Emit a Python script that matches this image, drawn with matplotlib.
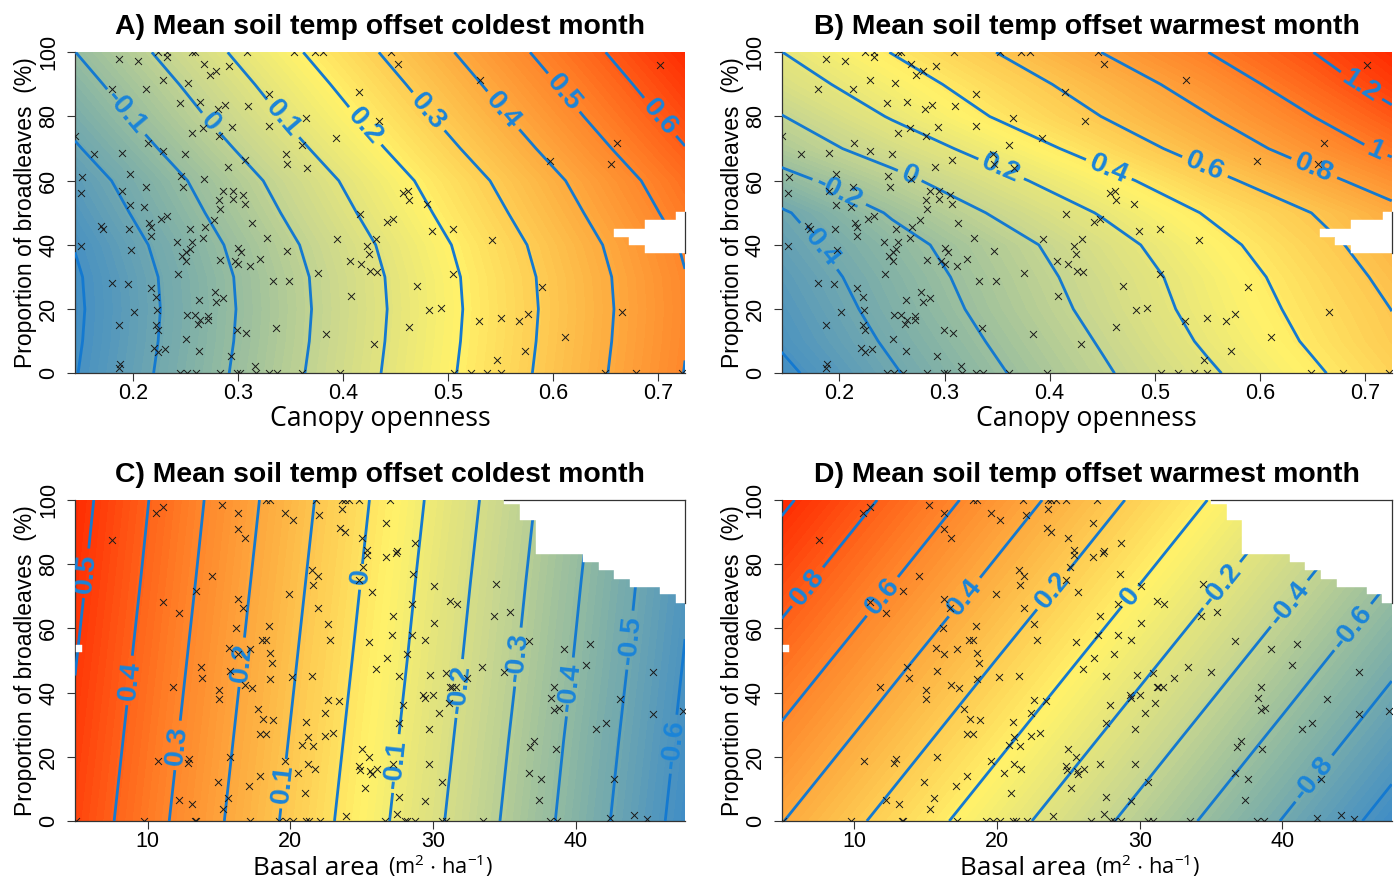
import numpy as np
import matplotlib
matplotlib.use("Agg")
import matplotlib.pyplot as plt
from matplotlib.colors import LinearSegmentedColormap
from matplotlib.patches import Rectangle

plt.rcParams['font.family'] = ['Liberation Sans', 'DejaVu Sans']
plt.rcParams['mathtext.default'] = 'regular'
plt.rcParams['contour.negative_linestyle'] = 'solid'

# ---- field tables ----
open_nodes = [0.145, 0.25, 0.35, 0.45, 0.55, 0.65, 0.7255]
share_rows = [0, 10, 20, 30, 40, 50, 60, 70, 80, 90, 100]
field_a = [
    [-.304, -.158, -.019, .119, .258, .397, .502],
    [-.310, -.164, -.025, .114, .253, .392, .497],
    [-.313, -.167, -.028, .111, .250, .389, .494],
    [-.310, -.164, -.025, .114, .253, .392, .497],
    [-.297, -.151, -.012, .126, .265, .404, .509],
    [-.272, -.126, .013, .151, .290, .429, .534],
    [-.248, -.103, .036, .175, .314, .453, .558],
    [-.209, -.064, .075, .214, .353, .492, .597],
    [-.172, -.026, .113, .251, .390, .529, .634],
    [-.137, .008, .147, .286, .425, .564, .669],
    [-.101, .044, .183, .322, .461, .600, .705],
]
field_b = [
    [-.637, -.417, -.219, -.023, .173, .373, .524],
    [-.581, -.374, -.178, .015, .226, .424, .573],
    [-.549, -.336, -.140, .053, .263, .456, .602],
    [-.514, -.308, -.114, .080, .285, .490, .644],
    [-.469, -.268, -.081, .123, .333, .537, .692],
    [-.421, -.182, .022, .214, .414, .602, .748],
    [-.265, -.056, .143, .334, .542, .741, .887],
    [-.107, .087, .278, .482, .684, .883, 1.04],
    [-.006, .214, .414, .602, .790, .998, 1.16],
    [.112, .307, .500, .690, .887, 1.105, 1.27],
    [.198, .405, .602, .802, .998, 1.198, 1.35],
]
basal_nodes = [4.9, 10, 20, 30, 40, 47.66]
share_rows_cd = [0, 25, 50, 75, 100]
field_c = [
    [.471, .339, .080, -.179, -.437, -.636],
    [.487, .355, .096, -.163, -.422, -.620],
    [.503, .371, .112, -.147, -.405, -.604],
    [.519, .387, .128, -.132, -.390, -.589],
    [.534, .402, .144, -.116, -.374, -.572],
]
field_d = [
    [.406, .230, -.116, -.460, -.806, -1.071],
    [.562, .386, .040, -.305, -.650, -.916],
    [.718, .542, .196, -.149, -.494, -.760],
    [.875, .699, .354, .008, -.338, -.604],
    [1.031, .855, .509, .164, -.182, -.448],
]

levels_a = [-.3, -.2, -.1, 0, .1, .2, .3, .4, .5, .6]
levels_b = [-.6, -.4, -.2, 0, .2, .4, .6, .8, 1, 1.2]
levels_c = [-.6, -.5, -.4, -.3, -.2, -.1, 0, .1, .2, .3, .4, .5]
levels_d = [-1, -.8, -.6, -.4, -.2, 0, .2, .4, .6, .8, 1]

# contour label anchor points
labels_a = [(.194, 81.5), (.275, 78.4), (.343, 79.4), (.422, 77.3), (.483, 82), (.553, 82), (.611, 87.7), (.704, 80.5)]
labels_b = [(.175, 38.4), (.199, 56), (.267, 61.7), (.354, 63.8), (.456, 63.3), (.547, 63.8), (.653, 64.9), (.711, 70), (.70, 91.4)]
labels_c = [(6.06, 77), (8.7, 43.8), (12.2, 23.5), (16.5, 49.5), (19.5, 11.6), (25.1, 76), (27.6, 17.8), (32, 41.2), (36.1, 51), (39.7, 41.7), (43.9, 56.3), (46.7, 24)]
labels_d = [(6.56, 73.5), (12, 69.8), (17.7, 69.8), (23.9, 71.9), (29.4, 69.8), (35.6, 74), (40.5, 67.7), (44.9, 60.5), (42.1, 13.6)]

# ---- plots (canopy openness, share of broadleaves) ----
canopy = [.224,.233,.256,.259,.309,.353,.373,.381,.446,.187,.205,.233,.268,.292,.279,.273,.229,.253,.452,.530,.702,.213,.180,.330,.415,.245,.264,.281,.288,.310,.365,.434,.330,.294,.267,.256,.282,.145,.393,.214,.229,.661,.361,.163,.190,.250,.346,.307,.347,.597,.655,.291,.366,.152,.197,.246,.268,.248,.213,.151,.190,.286,.295,.305,.295,.282,.457,.462,.463,.307,.480,.197,.211,.283,.416,.233,.227,.215,.313,.277,.448,.442,.170,.172,.269,.217,.254,.196,.505,.485,.217,.267,.242,.256,.328,.394,.431,.542,.151,.198,.300,.303,.347,.423,.425,.254,.251,.247,.251,.321,.283,.297,.407,.300,.417,.312,.243,.376,.426,.432,.505,.333,.349,.180,.195,.217,.470,.589,.278,.222,.286,.263,.279,.408,.223,.201,.666,.482,.493,.252,.259,.272,.264,.272,.576,.550,.529,.568,.187,.222,.463,.262,.224,.299,.308,.336,.384,.611,.251,.430,.220,.231,.224,.263,.573,.293,.547,.188,.187,.316,.245,.252,.260,.283,.299,.302,.317,.330,.337,.361,.397,.506,.522,.537,.550,.649,.679,.723]
broadleaf_ab = [100,100,100,100,100,100,100,100,100,98.0,97.3,98.6,96.4,95.6,94.1,93.0,91.4,90.3,96.4,91.3,95.9,88.7,88.5,86.9,87.5,84.2,84.5,82.4,83.7,83.4,79.4,78.6,77.0,76.7,76.4,74.9,74.0,73.9,73.4,71.6,69.4,71.6,71.0,68.3,68.6,68.3,68.3,66.5,65.2,66.2,65.1,64.2,64.0,61.1,62.1,61.5,60.5,58.1,58.0,56.2,56.8,56.8,56.7,55.5,54.4,54.1,56.2,56.8,54.1,52.8,52.8,52.3,51.9,51.1,49.5,49.0,48.2,46.9,46.9,47.9,48.1,47.1,45.8,45.1,45.6,45.6,45.1,45.1,44.8,44.4,42.7,42.0,41.0,41.0,42.2,41.8,41.9,41.5,39.6,38.4,38.9,37.8,38.1,39.6,37.3,38.6,37.8,36.5,34.9,35.6,35.4,34.9,35.0,33.9,34.0,33.4,31.0,31.1,31.9,31.6,31.0,28.9,28.8,28.0,27.7,26.7,27.1,26.8,25.2,23.9,23.5,22.9,22.3,24.1,19.8,19.1,19.2,19.6,20.4,18.2,18.2,18.0,16.7,16.7,18.6,17.3,16.4,16.2,15.0,15.2,14.3,15.5,13.4,13.6,12.7,14.0,12.3,11.3,10.7,9.0,7.8,7.5,6.5,6.8,6.9,5.5,4.0,2.8,1.8,2.3,0,0,0,0,0,0,0,0,0,0,0,0,0,0,0,0,0,0]

basal = [18.3,18.6,21.8,23.6,23.8,24.1,24.8,27.0,10.6,11.1,15.2,16.3,19.6,20.2,22.0,23.6,26.7,23.5,23.8,16.3,16.8,7.5,25.0,28.7,25.4,25.4,27.5,27.4,26.7,25.1,21.5,21.9,14.5,28.6,21.6,30.1,34.4,24.8,13.4,19.9,25.7,16.3,11.1,28.5,31.2,31.7,16.7,21.9,12.2,34.3,35.4,27.2,22.6,18.5,30.1,16.2,27.1,28.5,22.8,18.0,18.3,29.4,25.5,36.7,41.0,15.7,16.3,17.2,18.6,18.7,39.2,26.8,28.2,40.7,26.0,13.7,13.8,15.8,18.6,20.1,21.5,27.6,29.8,30.9,33.4,35.0,45.4,32.4,11.8,16.8,17.3,15.0,15.0,31.3,31.6,31.2,38.5,38.3,43.1,29.3,29.4,30.0,22.6,23.4,27.9,31.1,17.7,38.5,38.8,30.4,22.4,45.4,47.5,18.1,18.8,21.1,27.6,42.1,41.4,29.7,17.9,18.3,21.2,23.0,22.4,21.6,20.8,37.1,36.8,25.0,25.5,38.6,15.8,10.7,12.9,12.8,19.6,27.2,29.7,24.8,24.9,21.2,21.7,26.1,25.6,25.7,36.7,20.5,17.9,37.6,14.9,17.1,30.6,42.7,25.2,21.0,12.2,15.6,27.6,29.4,37.4,13.1,15.3,23.9,27.5,44.1,42.4,45.0,5.0,9.75,13.3,13.4,17.2,19.2,19.7,20.2,21.1,21.3,22.1,26.6,28.0,28.2,28.7,30.6,30.9,33.5,38.2,38.7]
broadleaf_cd = [100,100,100,100,100,100,100,100,95.8,97.7,98.4,96.1,96.0,93.8,95.3,97.1,92.7,91.2,90.1,91.0,88.2,87.4,88.2,86.5,84.4,83.0,84.2,83.4,82.1,79.2,78.1,76.4,76.4,76.8,73.6,73.2,73.7,75.0,71.5,70.8,71.3,69.2,68.2,67.7,68.5,67.7,66.2,66.2,64.8,63.9,65.0,63.9,61.5,60.8,61.8,60.1,57.8,57.8,56.3,56.3,56.3,56.5,55.7,56.0,55.0,54.0,52.1,53.7,52.4,49.2,53.6,50.9,52.1,48.5,47.5,47.9,44.4,46.8,44.1,44.8,45.1,45.3,45.5,46.1,47.9,46.5,46.4,44.5,41.6,42.5,41.5,40.8,37.9,41.9,41.6,41.6,41.7,38.4,38.1,39.4,38.4,39.2,37.8,37.5,36.0,36.9,34.9,34.7,35.2,33.8,33.6,33.3,34.2,31.7,31.5,30.8,30.4,30.5,28.6,28.8,27.0,27.2,26.2,27.5,26.5,23.5,23.8,24.8,23.2,22.5,19.8,22.4,19.9,18.8,19.4,18.2,18.8,17.8,17.9,17.1,15.9,17.8,16.2,16.2,15.5,14.7,14.8,14.9,13.9,13.0,12.0,10.9,12.3,13.2,10.4,8.6,6.6,7.2,7.5,6.3,6.5,5.2,3.6,1.7,2.2,1.8,0.8,0.6,0,0,0,0,0,0,0,0,0,0,0,0,0,0,0,0,0,0,0,0]

# ---- cells without prediction ----
notch_left = [.6575, .672, .687, .717]
notch_right = [.672, .687, .717, .7255]
notch_low = [42.5, 40.1, 37.5, 37.5]
notch_high = [45.1, 45.1, 47.7, 50.3]
stair_left = [35.0, 36.1, 37.2, 40.5, 41.6, 42.7, 43.8, 45.9, 47.0]
stair_right = [36.1, 37.2, 40.5, 41.6, 42.7, 43.8, 45.9, 47.0, 47.66]
stair_top = [98.7, 93.8, 83.1, 80.7, 78.1, 75.5, 72.9, 70.6, 67.9]

titles = ["A) Mean soil temp offset coldest month", "B) Mean soil temp offset warmest month",
          "C) Mean soil temp offset coldest month", "D) Mean soil temp offset warmest month"]

ramp = LinearSegmentedColormap.from_list("ramp", ["#3f8cc6", "#83b2a6", "#c9d78f", "#fff26a", "#fdb746", "#ff7a24", "#ff2800"])
LINE = "#1479d0"

W, H = 1400, 881
AW, AH = 610.0, 321.0
fig = plt.figure(figsize=(W / 100, H / 100), dpi=100)


def panel(left, top, xn, yn, z, levels, anchors, xv, yv, xlim, xticks, title, vr):
    ax = fig.add_axes([left / W, 1 - (top + AH) / H, AW / W, AH / H])
    ax.contourf(xn, yn, z, levels=np.linspace(vr[0], vr[1], 90), cmap=ramp, extend="both", zorder=1)
    cs = ax.contour(xn, yn, z, levels=levels, colors=LINE, linewidths=2.0, zorder=2)
    txt = ax.clabel(cs, levels=levels, manual=anchors, fontsize=20.5, fmt="%g", inline=True, inline_spacing=5)
    for t in txt:
        t.set_fontweight("bold")
        t.set_color("#1b84d8")
    ax.scatter(xv, yv, marker="x", s=25, c="#1a1a1a", linewidths=0.7, zorder=4)
    ax.set_xlim(*xlim)
    ax.set_ylim(0, 100)
    ax.set_xticks(xticks)
    ax.set_yticks([0, 20, 40, 60, 80, 100])
    ax.tick_params(axis="x", labelsize=15.5, length=5.5, width=0.8, color="#333333", pad=1.5)
    ax.tick_params(axis="y", labelsize=15.5, length=5.5, width=0.8, color="#333333", pad=6)
    for lab in ax.get_yticklabels():
        lab.set_rotation(90)
        lab.set_va("center")
    ax.set_title(title, fontsize=20.4, fontweight="bold", pad=13)
    ax.set_ylabel("Proportion of broadleaves  (%)", fontsize=16.5)
    ax.yaxis.set_label_coords(-0.062, 0.5)
    for s in ax.spines.values():
        s.set_linewidth(0.9)
        s.set_color("#333333")
        s.set_zorder(1.5)
    return ax


# panel A / B
for i, (lx, z, lv, an) in enumerate([(75, field_a, levels_a, labels_a), (781.7, field_b, levels_b, labels_b)]):
    vr = (-.32, .71) if i == 0 else (-.65, 1.36)
    ax = panel(lx, 52.3, open_nodes, share_rows, z, lv, an, canopy, broadleaf_ab, (.145, .7255),
               [.2, .3, .4, .5, .6, .7], titles[i], vr)
    ax.set_xlabel("Canopy openness", fontsize=19.2, fontfamily="Open Sans", labelpad=1)
    for a, b, c, d in zip(notch_left, notch_right, notch_low, notch_high):
        ax.add_patch(Rectangle((a, c), b - a, d - c, fc="white", ec="white", lw=0.3, zorder=3))
    ax.spines["top"].set_visible(False)
    ax.spines["right"].set_bounds(37.5, 50.3)
    ax.spines["right"].set_zorder(3.5)

# panel C / D
for i, (lx, z, lv, an) in enumerate([(75, field_c, levels_c, labels_c), (781.7, field_d, levels_d, labels_d)]):
    vr = (-.64, .54) if i == 0 else (-1.07, 1.03)
    ax = panel(lx, 500, basal_nodes, share_rows_cd, z, lv, an, basal, broadleaf_cd, (4.9, 47.66),
               [10, 20, 30, 40], titles[i + 2], vr)
    for a, b, t in zip(stair_left, stair_right, stair_top):
        ax.add_patch(Rectangle((a, t), b - a, 100 - t, fc="white", ec="white", lw=0.3, zorder=3))
    ax.add_patch(Rectangle((5.0, 52.7), 0.4, 2.2, fc="white", ec="white", lw=0.3, zorder=3))
    ax.spines["top"].set_bounds(35.0, 47.66)
    ax.spines["top"].set_zorder(3.5)
    ax.spines["right"].set_bounds(67.9, 100)
    ax.spines["right"].set_zorder(3.5)
    fig.text((lx + 178) / W, 1 - 875 / H, "Basal area", fontsize=18.8, fontfamily="Open Sans", ha="left", va="baseline")
    fig.text((lx + 313) / W, 1 - 874 / H, "(m$^{2}$ $\\cdot$ ha$^{-1}$)", fontsize=15.7, fontfamily="Open Sans", ha="left", va="baseline")

fig.savefig("out.png", dpi=100, facecolor="white")
